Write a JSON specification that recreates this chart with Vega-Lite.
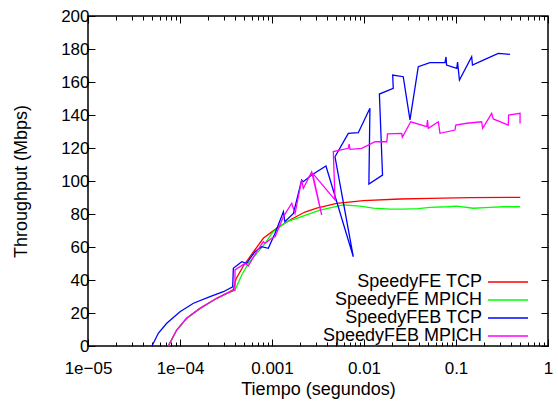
{
  "$schema": "https://vega.github.io/schema/vega-lite/v6.json",
  "width": 460,
  "height": 330,
  "autosize": "none",
  "padding": {"left": 88, "top": 16, "right": 10, "bottom": 55},
  "background": "white",
  "config": {
    "view": {"stroke": "black", "strokeWidth": 1.5},
    "font": "Liberation Sans",
    "axis": {"domain": false, "grid": false, "labelFont": "Liberation Sans", "labelFontSize": 17, "labelColor": "black", "titleFont": "Liberation Sans", "titleFontSize": 18, "titleFontWeight": "normal", "titleColor": "black", "tickColor": "black", "tickWidth": 1}
  },
  "data": {"values": [
    {"s":"SpeedyFE TCP","i":1,"t":7.46e-5,"v":0},
    {"s":"SpeedyFE TCP","i":2,"t":9.21e-5,"v":9.7},
    {"s":"SpeedyFE TCP","i":3,"t":1.18e-4,"v":16.8},
    {"s":"SpeedyFE TCP","i":4,"t":1.65e-4,"v":22.8},
    {"s":"SpeedyFE TCP","i":5,"t":2.51e-4,"v":28.9},
    {"s":"SpeedyFE TCP","i":6,"t":3.22e-4,"v":31.9},
    {"s":"SpeedyFE TCP","i":7,"t":3.80e-4,"v":34.2},
    {"s":"SpeedyFE TCP","i":8,"t":4.06e-4,"v":40.6},
    {"s":"SpeedyFE TCP","i":9,"t":4.88e-4,"v":48.5},
    {"s":"SpeedyFE TCP","i":10,"t":6.27e-4,"v":57},
    {"s":"SpeedyFE TCP","i":11,"t":8.04e-4,"v":65.3},
    {"s":"SpeedyFE TCP","i":12,"t":1.12e-3,"v":71.3},
    {"s":"SpeedyFE TCP","i":13,"t":1.64e-3,"v":77},
    {"s":"SpeedyFE TCP","i":14,"t":2.28e-3,"v":81.2},
    {"s":"SpeedyFE TCP","i":15,"t":3.06e-3,"v":83.5},
    {"s":"SpeedyFE TCP","i":16,"t":5.05e-3,"v":86.5},
    {"s":"SpeedyFE TCP","i":17,"t":9.82e-3,"v":88.1},
    {"s":"SpeedyFE TCP","i":18,"t":2.46e-2,"v":89.1},
    {"s":"SpeedyFE TCP","i":19,"t":5.21e-2,"v":89.5},
    {"s":"SpeedyFE TCP","i":20,"t":0.142,"v":89.9},
    {"s":"SpeedyFE TCP","i":21,"t":0.5,"v":90.1},

    {"s":"SpeedyFE MPICH","i":1,"t":7.46e-5,"v":0},
    {"s":"SpeedyFE MPICH","i":2,"t":9.21e-5,"v":9.7},
    {"s":"SpeedyFE MPICH","i":3,"t":1.18e-4,"v":16.8},
    {"s":"SpeedyFE MPICH","i":4,"t":1.65e-4,"v":22.8},
    {"s":"SpeedyFE MPICH","i":5,"t":2.51e-4,"v":28.9},
    {"s":"SpeedyFE MPICH","i":6,"t":3.22e-4,"v":31.9},
    {"s":"SpeedyFE MPICH","i":7,"t":3.96e-4,"v":33.9},
    {"s":"SpeedyFE MPICH","i":8,"t":4.69e-4,"v":43},
    {"s":"SpeedyFE MPICH","i":9,"t":5.53e-4,"v":50.1},
    {"s":"SpeedyFE MPICH","i":10,"t":7.10e-4,"v":57.2},
    {"s":"SpeedyFE MPICH","i":11,"t":8.39e-4,"v":62.2},
    {"s":"SpeedyFE MPICH","i":12,"t":1.03e-3,"v":69.3},
    {"s":"SpeedyFE MPICH","i":13,"t":1.44e-3,"v":75.2},
    {"s":"SpeedyFE MPICH","i":14,"t":1.85e-3,"v":77.4},
    {"s":"SpeedyFE MPICH","i":15,"t":3.32e-3,"v":82.4},
    {"s":"SpeedyFE MPICH","i":16,"t":5.96e-3,"v":85.5},
    {"s":"SpeedyFE MPICH","i":17,"t":9.05e-3,"v":84.8},
    {"s":"SpeedyFE MPICH","i":18,"t":1.26e-2,"v":83.5},
    {"s":"SpeedyFE MPICH","i":19,"t":1.92e-2,"v":83},
    {"s":"SpeedyFE MPICH","i":20,"t":2.67e-2,"v":83},
    {"s":"SpeedyFE MPICH","i":21,"t":3.89e-2,"v":83.2},
    {"s":"SpeedyFE MPICH","i":22,"t":5.21e-2,"v":84},
    {"s":"SpeedyFE MPICH","i":23,"t":7.93e-2,"v":84.4},
    {"s":"SpeedyFE MPICH","i":24,"t":0.102,"v":84.8},
    {"s":"SpeedyFE MPICH","i":25,"t":0.154,"v":83.5},
    {"s":"SpeedyFE MPICH","i":26,"t":0.234,"v":84},
    {"s":"SpeedyFE MPICH","i":27,"t":0.327,"v":84.4},
    {"s":"SpeedyFE MPICH","i":28,"t":0.497,"v":84.4},

    {"s":"SpeedyFEB TCP","i":1,"t":4.96e-5,"v":0},
    {"s":"SpeedyFEB TCP","i":2,"t":5.81e-5,"v":7.7},
    {"s":"SpeedyFEB TCP","i":3,"t":7.17e-5,"v":13.8},
    {"s":"SpeedyFEB TCP","i":4,"t":1.0e-4,"v":20.8},
    {"s":"SpeedyFEB TCP","i":5,"t":1.40e-4,"v":25.9},
    {"s":"SpeedyFEB TCP","i":6,"t":2.12e-4,"v":29.9},
    {"s":"SpeedyFEB TCP","i":7,"t":2.96e-4,"v":32.9},
    {"s":"SpeedyFEB TCP","i":8,"t":3.74e-4,"v":35.9},
    {"s":"SpeedyFEB TCP","i":9,"t":3.80e-4,"v":47.1},
    {"s":"SpeedyFEB TCP","i":10,"t":4.69e-4,"v":51.1},
    {"s":"SpeedyFEB TCP","i":11,"t":5.31e-4,"v":50.1},
    {"s":"SpeedyFEB TCP","i":12,"t":6.53e-4,"v":57.2},
    {"s":"SpeedyFEB TCP","i":13,"t":7.73e-4,"v":60.2},
    {"s":"SpeedyFEB TCP","i":14,"t":9.12e-4,"v":59.2},
    {"s":"SpeedyFEB TCP","i":15,"t":1.08e-3,"v":68.3},
    {"s":"SpeedyFEB TCP","i":16,"t":1.33e-3,"v":81.4},
    {"s":"SpeedyFEB TCP","i":17,"t":1.38e-3,"v":75.3},
    {"s":"SpeedyFEB TCP","i":18,"t":1.71e-3,"v":80.4},
    {"s":"SpeedyFEB TCP","i":19,"t":2.10e-3,"v":100.6},
    {"s":"SpeedyFEB TCP","i":20,"t":2.19e-3,"v":99.6},
    {"s":"SpeedyFEB TCP","i":21,"t":2.70e-3,"v":103.6},
    {"s":"SpeedyFEB TCP","i":22,"t":3.86e-3,"v":109.1},
    {"s":"SpeedyFEB TCP","i":23,"t":7.65e-3,"v":54.1},
    {"s":"SpeedyFEB TCP","i":24,"t":4.84e-3,"v":114.7},
    {"s":"SpeedyFEB TCP","i":25,"t":6.75e-3,"v":128.9},
    {"s":"SpeedyFEB TCP","i":26,"t":8.67e-3,"v":129.3},
    {"s":"SpeedyFEB TCP","i":27,"t":1.16e-2,"v":144.1},
    {"s":"SpeedyFEB TCP","i":28,"t":1.13e-2,"v":98.2},
    {"s":"SpeedyFEB TCP","i":29,"t":1.59e-2,"v":103.6},
    {"s":"SpeedyFEB TCP","i":30,"t":1.47e-2,"v":152.7},
    {"s":"SpeedyFEB TCP","i":31,"t":2.08e-2,"v":156.2},
    {"s":"SpeedyFEB TCP","i":32,"t":2.05e-2,"v":164.2},
    {"s":"SpeedyFEB TCP","i":33,"t":2.67e-2,"v":163.2},
    {"s":"SpeedyFEB TCP","i":34,"t":3.16e-2,"v":137},
    {"s":"SpeedyFEB TCP","i":35,"t":3.89e-2,"v":169.3},
    {"s":"SpeedyFEB TCP","i":36,"t":5.21e-2,"v":171.7},
    {"s":"SpeedyFEB TCP","i":37,"t":7.59e-2,"v":171.7},
    {"s":"SpeedyFEB TCP","i":38,"t":7.79e-2,"v":175.2},
    {"s":"SpeedyFEB TCP","i":39,"t":7.9e-2,"v":170.3},
    {"s":"SpeedyFEB TCP","i":40,"t":0.102,"v":168.3},
    {"s":"SpeedyFEB TCP","i":41,"t":0.104,"v":172.1},
    {"s":"SpeedyFEB TCP","i":42,"t":0.109,"v":161.2},
    {"s":"SpeedyFEB TCP","i":43,"t":0.148,"v":175.3},
    {"s":"SpeedyFEB TCP","i":44,"t":0.151,"v":170.3},
    {"s":"SpeedyFEB TCP","i":45,"t":0.198,"v":173.3},
    {"s":"SpeedyFEB TCP","i":46,"t":0.288,"v":177.4},
    {"s":"SpeedyFEB TCP","i":47,"t":0.386,"v":176.8},

    {"s":"SpeedyFEB MPICH","i":1,"t":7.46e-5,"v":0},
    {"s":"SpeedyFEB MPICH","i":2,"t":9.21e-5,"v":9.7},
    {"s":"SpeedyFEB MPICH","i":3,"t":1.18e-4,"v":16.8},
    {"s":"SpeedyFEB MPICH","i":4,"t":1.65e-4,"v":22.8},
    {"s":"SpeedyFEB MPICH","i":5,"t":2.51e-4,"v":28.9},
    {"s":"SpeedyFEB MPICH","i":6,"t":3.22e-4,"v":31.9},
    {"s":"SpeedyFEB MPICH","i":7,"t":3.96e-4,"v":33.9},
    {"s":"SpeedyFEB MPICH","i":8,"t":3.96e-4,"v":46.1},
    {"s":"SpeedyFEB MPICH","i":9,"t":5.09e-4,"v":50.1},
    {"s":"SpeedyFEB MPICH","i":10,"t":5.53e-4,"v":48.5},
    {"s":"SpeedyFEB MPICH","i":11,"t":6.82e-4,"v":57.2},
    {"s":"SpeedyFEB MPICH","i":12,"t":8.04e-4,"v":63.2},
    {"s":"SpeedyFEB MPICH","i":13,"t":8.39e-4,"v":62.2},
    {"s":"SpeedyFEB MPICH","i":14,"t":9.93e-4,"v":65.3},
    {"s":"SpeedyFEB MPICH","i":15,"t":1.08e-3,"v":66.2},
    {"s":"SpeedyFEB MPICH","i":16,"t":1.33e-3,"v":78.4},
    {"s":"SpeedyFEB MPICH","i":17,"t":1.64e-3,"v":86.5},
    {"s":"SpeedyFEB MPICH","i":18,"t":1.78e-3,"v":80.4},
    {"s":"SpeedyFEB MPICH","i":19,"t":2.10e-3,"v":100.6},
    {"s":"SpeedyFEB MPICH","i":20,"t":2.19e-3,"v":95.6},
    {"s":"SpeedyFEB MPICH","i":21,"t":2.70e-3,"v":105.5},
    {"s":"SpeedyFEB MPICH","i":22,"t":3.47e-3,"v":79.4},
    {"s":"SpeedyFEB MPICH","i":23,"t":2.76e-3,"v":104.8},
    {"s":"SpeedyFEB MPICH","i":24,"t":4.84e-3,"v":88.5},
    {"s":"SpeedyFEB MPICH","i":25,"t":4.64e-3,"v":117.8},
    {"s":"SpeedyFEB MPICH","i":26,"t":6.75e-3,"v":119.8},
    {"s":"SpeedyFEB MPICH","i":27,"t":6.9e-3,"v":122.4},
    {"s":"SpeedyFEB MPICH","i":28,"t":7.04e-3,"v":119.2},
    {"s":"SpeedyFEB MPICH","i":29,"t":9.44e-3,"v":119.8},
    {"s":"SpeedyFEB MPICH","i":30,"t":1.32e-2,"v":123.8},
    {"s":"SpeedyFEB MPICH","i":31,"t":1.77e-2,"v":123.8},
    {"s":"SpeedyFEB MPICH","i":32,"t":1.80e-2,"v":128.5},
    {"s":"SpeedyFEB MPICH","i":33,"t":2.57e-2,"v":128.9},
    {"s":"SpeedyFEB MPICH","i":34,"t":2.61e-2,"v":126.5},
    {"s":"SpeedyFEB MPICH","i":35,"t":3.22e-2,"v":135.9},
    {"s":"SpeedyFEB MPICH","i":36,"t":4.81e-2,"v":132.9},
    {"s":"SpeedyFEB MPICH","i":37,"t":4.90e-2,"v":137},
    {"s":"SpeedyFEB MPICH","i":38,"t":5.00e-2,"v":131.9},
    {"s":"SpeedyFEB MPICH","i":39,"t":6.42e-2,"v":135.9},
    {"s":"SpeedyFEB MPICH","i":40,"t":6.70e-2,"v":128.9},
    {"s":"SpeedyFEB MPICH","i":41,"t":9.75e-2,"v":130.9},
    {"s":"SpeedyFEB MPICH","i":42,"t":9.95e-2,"v":133.9},
    {"s":"SpeedyFEB MPICH","i":43,"t":0.131,"v":135},
    {"s":"SpeedyFEB MPICH","i":44,"t":0.190,"v":135.9},
    {"s":"SpeedyFEB MPICH","i":45,"t":0.195,"v":131.9},
    {"s":"SpeedyFEB MPICH","i":46,"t":0.244,"v":141},
    {"s":"SpeedyFEB MPICH","i":47,"t":0.254,"v":137.6},
    {"s":"SpeedyFEB MPICH","i":48,"t":0.370,"v":133.9},
    {"s":"SpeedyFEB MPICH","i":49,"t":0.373,"v":140},
    {"s":"SpeedyFEB MPICH","i":50,"t":0.497,"v":141},
    {"s":"SpeedyFEB MPICH","i":51,"t":0.497,"v":134.9}
  ]},
  "layer": [
    {
      "mark": {"type": "line", "strokeWidth": 1.3},
      "encoding": {
        "x": {"field": "t", "type": "quantitative",
          "scale": {"type": "log", "domain": [0.00001, 1], "nice": false},
          "axis": {"orient": "bottom", "title": "Tiempo (segundos)",
            "values": [0.00001,0.00002,0.00003,0.00004,0.00005,0.00006,0.00007,0.00008,0.00009,0.0001,0.0002,0.0003,0.0004,0.0005,0.0006,0.0007,0.0008,0.0009,0.001,0.002,0.003,0.004,0.005,0.006,0.007,0.008,0.009,0.01,0.02,0.03,0.04,0.05,0.06,0.07,0.08,0.09,0.1,0.2,0.3,0.4,0.5,0.6,0.7,0.8,0.9,1],
            "tickSize": {"condition": {"test": "abs(log(datum.value)/LN10 - round(log(datum.value)/LN10)) < 1e-6", "value": -7}, "value": -4},
            "labelExpr": "abs(log(datum.value)/LN10 - round(log(datum.value)/LN10)) > 1e-6 ? '' : (datum.value < 0.00002 ? '1e\u221205' : (datum.value < 0.0002 ? '1e\u221204' : format(datum.value, '')))",
            "labelOverlap": false, "labelFlush": false, "labelPadding": 21, "titlePadding": 1}},
        "y": {"field": "v", "type": "quantitative",
          "scale": {"domain": [0, 200], "nice": false},
          "axis": {"orient": "left", "title": "Throughput (Mbps)", "values": [0,20,40,60,80,100,120,140,160,180,200], "tickSize": -7, "labelPadding": 6, "titlePadding": 30}},
        "color": {"field": "s", "type": "nominal",
          "scale": {"domain": ["SpeedyFE TCP", "SpeedyFE MPICH", "SpeedyFEB TCP", "SpeedyFEB MPICH"], "range": ["#ff0000", "#00ff00", "#0000ff", "#ff00ff"]},
          "legend": {"title": null, "orient": "none", "legendX": 411, "legendY": 257, "symbolType": "M-4,0H4", "symbolSize": 100, "symbolStrokeWidth": 1.5, "labelAlign": "right", "labelOffset": -35, "labelFontSize": 18, "labelFont": "Liberation Sans", "labelColor": "black", "rowPadding": -1.5, "labelLimit": 0, "padding": 0}},
        "order": {"field": "i", "type": "quantitative"}
      }
    },
    {
      "mark": {"type": "line", "opacity": 0},
      "encoding": {
        "x": {"field": "t", "type": "quantitative",
          "scale": {"type": "log", "domain": [0.00001, 1], "nice": false},
          "axis": {"orient": "top", "title": null, "labels": false,
            "values": [0.00001,0.00002,0.00003,0.00004,0.00005,0.00006,0.00007,0.00008,0.00009,0.0001,0.0002,0.0003,0.0004,0.0005,0.0006,0.0007,0.0008,0.0009,0.001,0.002,0.003,0.004,0.005,0.006,0.007,0.008,0.009,0.01,0.02,0.03,0.04,0.05,0.06,0.07,0.08,0.09,0.1,0.2,0.3,0.4,0.5,0.6,0.7,0.8,0.9,1],
            "tickSize": {"condition": {"test": "abs(log(datum.value)/LN10 - round(log(datum.value)/LN10)) < 1e-6", "value": -7}, "value": -4}}},
        "y": {"field": "v", "type": "quantitative",
          "scale": {"domain": [0, 200], "nice": false},
          "axis": {"orient": "right", "title": null, "labels": false, "values": [0,20,40,60,80,100,120,140,160,180,200], "tickSize": -7}},
        "detail": {"field": "s", "type": "nominal"},
        "order": {"field": "i", "type": "quantitative"}
      }
    }
  ],
  "resolve": {"axis": {"x": "independent", "y": "independent"}}
}
